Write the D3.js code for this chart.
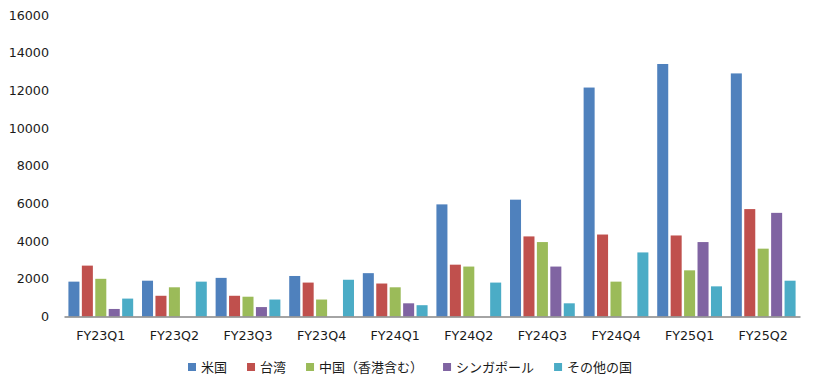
<!DOCTYPE html>
<html><head><meta charset="utf-8">
<script src="https://cdn.jsdelivr.net/npm/d3@7"></script>
<style>body{margin:0;background:#fff}svg{display:block}text{font-family:"DejaVu Sans","Noto Sans CJK JP",sans-serif;fill:#1a1a1a}</style>
</head><body><svg id="c" width="814" height="384"></svg>
<script>
const categories = ["FY23Q1","FY23Q2","FY23Q3","FY23Q4","FY24Q1","FY24Q2","FY24Q3","FY24Q4","FY25Q1","FY25Q2"];
const seriesNames = ["米国","台湾","中国（香港含む）","シンガポール","その他の国"];
const usa       = [1850,1900,2050,2150,2300,5950,6200,12150,13400,12900];
const taiwan    = [2700,1100,1100,1800,1750,2750,4250,4350,4300,5700];
const china     = [2000,1550,1050,900,1550,2650,3950,1850,2450,3600];
const singapore = [400,0,500,0,700,0,2650,0,3950,5500];
const others    = [950,1850,900,1950,600,1800,700,3400,1600,1900];
const yTicks = [0,2000,4000,6000,8000,10000,12000,14000,16000];
const colors = ["#4F81BD","#C0504D","#9BBB59","#8064A2","#4BACC6"];
const seriesValues = [usa,taiwan,china,singapore,others];

(function(){
const svg = d3.select("#c");
const mLeft = 64, mRight = 800, mTop = 15, mBottom = 316.5;
const x0 = d3.scaleBand().domain(categories).range([mLeft,mRight]).paddingInner(0.12).paddingOuter(0.06);
const x1 = d3.scaleBand().domain(seriesNames).range([0,x0.bandwidth()]).paddingInner(0.18).paddingOuter(0);
const y = d3.scaleLinear().domain([0,16000]).range([mBottom,mTop]);

const ya = svg.append("g").attr("transform",`translate(${mLeft},0)`)
  .call(d3.axisLeft(y).tickValues(yTicks).tickSize(0).tickPadding(15).tickFormat(d3.format("d")));
ya.select(".domain").remove();
ya.selectAll("text").style("font-size","12.7px").attr("fill","#1a1a1a");

const g = svg.append("g");
categories.forEach((c,i)=>{
  seriesNames.forEach((s,j)=>{
    const v = seriesValues[j][i];
    if(!v) return;
    g.append("rect").attr("x",x0(c)+x1(s)).attr("width",x1.bandwidth())
      .attr("y",y(v)).attr("height",y(0)-y(v)).attr("fill",colors[j]);
  });
});

const xa = svg.append("g").attr("transform",`translate(0,${mBottom})`)
  .call(d3.axisBottom(x0).tickSize(0).tickPadding(14));
xa.select(".domain").attr("stroke","#868686").attr("stroke-width",1.5);
xa.selectAll("text").style("font-size","12.7px").attr("fill","#1a1a1a");

const lg = svg.append("g");
let lx = 188;
seriesNames.forEach((s,j)=>{
  lg.append("rect").attr("x",lx).attr("y",363).attr("width",8).attr("height",8).attr("fill",colors[j]);
  const t = lg.append("text").attr("x",lx+13).attr("y",367).attr("dy","0.35em")
    .style("font-size","13px").text(s);
  lx += 13 + t.node().getComputedTextLength() + 20;
});
})();
</script></body></html>
